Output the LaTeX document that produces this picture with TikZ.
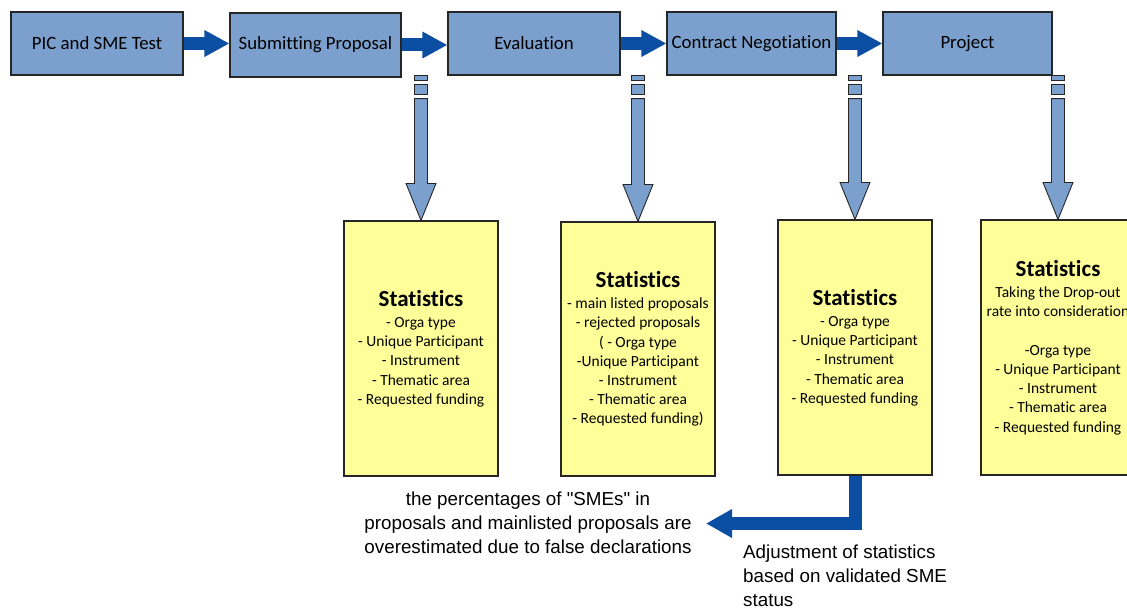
\documentclass[tikz,border=0pt]{standalone}
\usepackage{fontspec}
\setmainfont{Carlito}[Ligatures=NoCommon]
\newfontfamily\notefont{Liberation Sans}
\usetikzlibrary{arrows.meta,calc}

\definecolor{stepblue}{HTML}{7BA0CD}
\definecolor{flowblue}{HTML}{0B4EA2}
\definecolor{statyellow}{HTML}{FFFF99}
\definecolor{edgegray}{HTML}{262626}

\tikzset{
  stagebox/.style={draw=edgegray, line width=1.1pt, fill=stepblue, minimum height=63pt,
    inner sep=0pt, font=\fontsize{18.8}{22}\selectfont},
  statbox/.style={draw=edgegray, line width=1.1pt, fill=statyellow, minimum width=154pt,
    minimum height=255pt, inner sep=0pt, align=center, font=\fontsize{15.5}{19.2}\selectfont},
  flow/.style={flowblue, line width=13pt, -{Triangle[width=25pt,length=25pt]}},
  dropshape/.style={draw=edgegray, line width=0.9pt, fill=stepblue},
  note/.style={font=\notefont\fontsize{18.8}{24}\selectfont, inner sep=0pt},
}

% heading line inside a statistics box
\newcommand{\stathead}{{\fontsize{23}{24}\selectfont\bfseries Statistics}\\[2pt]}

% hollow drop arrow: two short bars, then a shaft ending in a head on the target's top
\newcommand{\droparrow}[2]{%
  \draw[dropshape] ($(#1)+(-6.5,0)$) rectangle ($(#1)+(6.5,4.5)$);
  \draw[dropshape] ($(#1)+(-6.5,9)$) rectangle ($(#1)+(6.5,18.5)$);
  \draw[dropshape] ($(#1)+(-6.5,23)$) -- ($(#2.north)+(-6.5,-37)$) -- ++(-8.5,0)
    -- (#2.north) -- ($(#2.north)+(15,-37)$) -- ++(-8.5,0) -- ($(#1)+(6.5,23)$) -- cycle;
}

\begin{document}
\begin{tikzpicture}[x=1pt, y=-1pt]
  \useasboundingbox (0,0) rectangle (1127,610);

  % process stages
  \node[stagebox, minimum width=172pt] (b1) at (97,43.5) {PIC and SME Test};
  \node[stagebox, minimum width=171pt, minimum height=64pt] (b2) at (315.5,45) {Submitting Proposal};
  \node[stagebox, minimum width=172pt] (b3) at (534,43.5) {Evaluation};
  \node[stagebox, minimum width=169pt] (b4) at (751.5,43.5) {Contract Negotiation};
  \node[stagebox, minimum width=169pt] (b5) at (967.5,43.5) {Project};

  \draw[flow] (b1.east) -- (b1.east -| b2.west);
  \draw[flow] (b2.east) -- (b2.east -| b3.west);
  \draw[flow] (b3.east) -- (b3.east -| b4.west);
  \draw[flow] (b4.east) -- (b4.east -| b5.west);

  % statistics boxes
  \node[statbox] (s1) at (421,348.5) {\stathead
    - Orga type\\- Unique Participant\\- Instrument\\- Thematic area\\- Requested funding};
  \node[statbox, minimum height=254pt] (s2) at (638,349) {\stathead
    - main listed proposals\\- rejected proposals\\( - Orga type\\-Unique Participant\\- Instrument\\- Thematic area\\- Requested funding)};
  \node[statbox] (s3) at (855,347.5) {\stathead
    - Orga type\\- Unique Participant\\- Instrument\\- Thematic area\\- Requested funding};
  \node[statbox] (s4) at (1058,347.5) {\stathead
    Taking the Drop-out\\rate into consideration\\[19.2pt]-Orga type\\- Unique Participant\\- Instrument\\- Thematic area\\- Requested funding};

  % adjustment arrow leaves the third statistics box
  \coordinate (adjtip) at (706,523.5);
  \draw[flow, shorten <=0.6pt, -{Triangle[width=27pt,length=26pt]}] (s3.south) |- (adjtip);

  % drop arrows from the flow down to the statistics
  \coordinate (d1) at (s1.north |- b1.south);
  \coordinate (d2) at (s2.north |- b1.south);
  \coordinate (d3) at (s3.north |- b1.south);
  \coordinate (d4) at (s4.north |- b1.south);
  \droparrow{d1}{s1}
  \droparrow{d2}{s2}
  \droparrow{d3}{s3}
  \droparrow{d4}{s4}

  % notes
  \node[note, align=center] (overest) at (528,522.5)
    {the percentages of "SMEs" in\\proposals and mainlisted proposals are\\overestimated due to false declarations};
  \node[note, align=left, anchor=west] (adjust) at (743,576)
    {Adjustment of statistics\\based on validated SME\\status};
\end{tikzpicture}
\end{document}
